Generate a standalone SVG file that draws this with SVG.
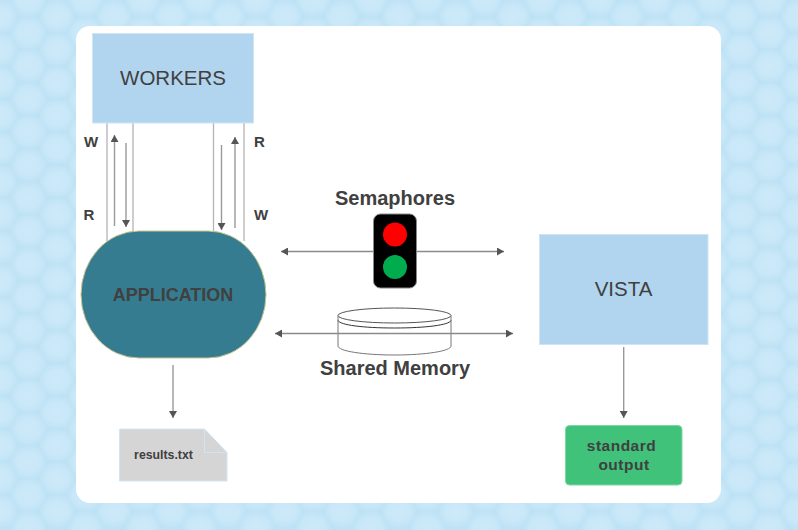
<svg xmlns="http://www.w3.org/2000/svg" width="798" height="530" viewBox="0 0 798 530">
<style>
text{font-family:"Liberation Sans",Arial,sans-serif;fill:#404040;text-anchor:middle}
.b{font-weight:bold}
.box{fill:#b2d5ef;stroke:#cfe4f4;stroke-width:1}
.thin{stroke:#b4b4b4;stroke-width:1.3;fill:none}
.arr{stroke:#999;stroke-width:1.4;fill:none;marker-end:url(#ah)}
.arr2{stroke:#8a8a8a;stroke-width:1.3;fill:none;marker-end:url(#ah);marker-start:url(#ahs)}
</style>
<defs>
<marker id="ah" markerUnits="userSpaceOnUse" markerWidth="8" markerHeight="8" refX="7" refY="4" orient="auto"><path d="M0,0L7,4L0,8Z" fill="#555"/></marker>
<marker id="ahs" markerUnits="userSpaceOnUse" markerWidth="8" markerHeight="8" refX="0" refY="4" orient="auto"><path d="M7,0L0,4L7,8Z" fill="#555"/></marker>
<filter id="soft" x="-5%" y="-5%" width="110%" height="110%"><feGaussianBlur stdDeviation="1.8"/></filter>
<radialGradient id="cell"><stop offset="0" stop-color="#cde9f9"/><stop offset="0.7" stop-color="#c8e7f8"/><stop offset="1" stop-color="#c0e3f5"/></radialGradient>
<pattern id="hex" width="57" height="33" patternUnits="userSpaceOnUse">
<rect width="57" height="33" fill="#bce1f4"/>
<g fill="url(#cell)" stroke="#bce1f4" stroke-width="1.2">
<path d="M-9.5,0.5L-18,16.5L-9.5,32.5L9.5,32.5L18,16.5L9.5,0.5Z"/>
<path d="M47.5,0.5L39,16.5L47.5,32.5L66.5,32.5L75,16.5L66.5,0.5Z"/>
<path d="M19,-16L10,0L19,16L38,16L47,0L38,-16Z"/>
<path d="M19,17L10,33L19,49L38,49L47,33L38,17Z"/>
</g>
</pattern>
</defs>
<g id="background">
<rect x="-4" y="-4" width="806" height="538" fill="url(#hex)" filter="url(#soft)"/>
<rect id="card" x="76" y="26" width="645" height="477" rx="14" fill="#fff"/>
</g>
<g id="connectors">
<path class="thin" d="M107,123V241M133,123V232M213.500,123V232M244,123V241"/>
<path class="arr" d="M114.500,226V135"/>
<path class="arr" d="M126,143V227"/>
<path class="arr" d="M221.500,145V230"/>
<path class="arr" d="M235,228V137"/>
<path class="arr" d="M173,365V418"/>
<path class="arr" d="M623.700,347V418"/>
</g>
<g id="workers"><rect class="box" x="92.500" y="33.500" width="161" height="89.500"/><text x="173" y="84.500" font-size="20.500">WORKERS</text></g>
<g id="application"><rect x="81" y="231" width="185" height="127" rx="58" ry="63.500" fill="#367c91" stroke="#c9c48f" stroke-width="1"/><text class="b" x="173" y="301" font-size="18">APPLICATION</text></g>
<g id="labels">
<text class="b" x="91" y="147" font-size="15">W</text>
<text class="b" x="89" y="220" font-size="15">R</text>
<text class="b" x="259.500" y="147" font-size="15">R</text>
<text class="b" x="261" y="220" font-size="15">W</text>
</g>
<g id="shared-memory">
<path d="M338,315.500V346C338,351 363,355 394.500,355C426,355 451,351 451,346V315.500" fill="#fff" stroke="#777" stroke-width="1"/>
<ellipse cx="394.500" cy="315.500" rx="56.500" ry="7.500" fill="#fff" stroke="#555" stroke-width="1"/>
<path d="M338,320.500C340,325 363,328 394.500,328C426,328 449,325 451,320.500" fill="none" stroke="#333" stroke-width="1"/>
<text class="b" x="395" y="375" font-size="20">Shared Memory</text>
</g>
<g id="shared-memory-connector"><path class="arr2" d="M275,333.500H513"/></g>
<g id="semaphore-connector"><path class="arr2" d="M281,251.500H504"/></g>
<g id="semaphores">
<rect x="373.500" y="214" width="43" height="74" rx="7" fill="#000" stroke="#888" stroke-width="1"/>
<circle cx="395" cy="234.500" r="12" fill="#fe0000"/>
<circle cx="395" cy="267" r="12" fill="#00ac4e"/>
<text class="b" x="395" y="205" font-size="20">Semaphores</text>
</g>
<g id="vista"><rect class="box" x="539.500" y="234.500" width="168.500" height="110"/><text x="623.500" y="296" font-size="20.500">VISTA</text></g>
<g id="results">
<path d="M119.500,429H204.500L227,452.500V481H119.500Z" fill="#d5d5d5" stroke="#cfe4f4" stroke-width="1"/>
<path d="M204.500,429V452.500H227" fill="none" stroke="#cfe4f4" stroke-width="1"/>
<text class="b" x="163.500" y="459" font-size="12.300">results.txt</text>
</g>
<g id="output">
<rect x="565.500" y="425.500" width="116.500" height="59.500" rx="4" fill="#40c27a" stroke="#7dd8a5" stroke-width="1"/>
<text class="b" x="621.500" y="451" font-size="15.500" letter-spacing="0.500">standard</text>
<text class="b" x="624" y="470" font-size="15.500" letter-spacing="0.500">output</text>
</g>
</svg>
